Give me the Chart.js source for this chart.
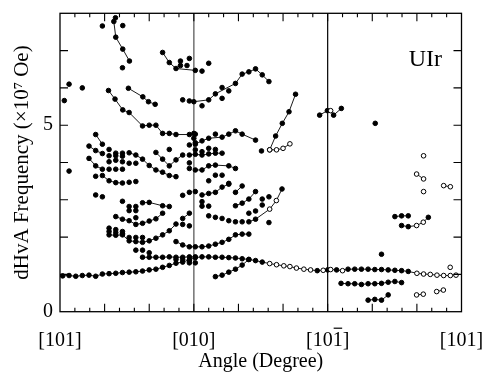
<!DOCTYPE html>
<html>
<head>
<meta charset="utf-8">
<script src="https://cdn.jsdelivr.net/npm/chart.js@4.4.0/dist/chart.umd.min.js"></script>
<style>
  html, body { margin: 0; padding: 0; background: #fff; overflow: hidden; }
  #wrap { width: 487px; height: 379px; }
  canvas { display: block; }
</style>
</head>
<body>
<div id="wrap"><canvas id="c" width="487" height="379"></canvas></div>
<script>
// Angle (deg, [101]=0 -> [010]=90 -> [10-1]=180 -> [101]=270) vs dHvA frequency (x10^7 Oe)
// third element 1 = open symbol
const axisLabels = { 0: '[101]', 90: '[010]', 180: '[101]', 270: '[101]' };
const yLabels = [0, 5];

const mainLine = [[1.8,0.96],[6.1,0.97],[10.6,0.95],[15,0.97],[19.5,0.98],[24,0.95],[28.5,1.01],[33,1.02],
  [37.5,1.03],[42,1.05],[46.5,1.06],[51,1.07],[55.5,1.09],[60,1.12],[64.5,1.14],[69,1.19],[73.5,1.24],
  [78,1.30],[82.5,1.33],[87,1.39],[91,1.45],[95.5,1.47],[100,1.47],[104.5,1.46],[109,1.46],[113.5,1.45],
  [118,1.44],[122.5,1.42],[127,1.40],[131.5,1.37],[136,1.33],[141,1.29,1],[145.6,1.26,1],[150.5,1.23,1],
  [154.6,1.21,1],[159,1.17,1],[164,1.14,1],[168.5,1.12,1],[173,1.10],[177,1.11,1],[180,1.12],[182,1.13,1],
  [186,1.12],[190,1.10,1],[193.7,1.14],[198.2,1.14],[202.7,1.14],[207.2,1.14],[211.7,1.13],[216.2,1.13],
  [220.7,1.12],[225.2,1.11],[229.7,1.10],[234.2,1.08],[240,1.03,1],[244.5,1.01,1],[249,1.00,1],
  [253.5,0.98,1],[258,0.97,1],[262.5,0.97,1],[266.3,0.98,1]];
const row146 = [[55.5,1.46],[60,1.46],[64.5,1.46],[69,1.46],[73.5,1.47],[78,1.46],[82.5,1.46],[87,1.47],[91,1.47]];
const riseLine = [[104.5,0.94],[109,0.98],[113.5,1.06],[118,1.14],[122.5,1.25],[127,1.40]];
const lowLine = [[189,0.76],[193.7,0.75],[198.2,0.75],[202.7,0.73],[207.2,0.75],[211.7,0.75],[216.2,0.76],
  [220.7,0.79],[225.2,0.81],[229.7,0.78]];
const bottomLine = [[207.2,0.31],[211.7,0.33],[216.2,0.31],[220.7,0.45]];
const pairA = [[239.8,0.45,1],[244.3,0.47,1]];
const pairB = [[253.3,0.54,1],[257.8,0.58,1]];
const pairC = [[258,3.38,1],[262.5,3.35,1]];
const pairD = [[239.8,3.69,1],[244.5,3.56,1]];
const line255 = [[225.2,2.55],[229.7,2.57],[234.2,2.57]];
const line230 = [[229.7,2.31],[234.2,2.28],[239.8,2.31,1],[244.3,2.40,1],[247.7,2.53]];
const line53 = [[174.6,5.27],[179.8,5.39],[182,5.39,1],[184,5.27],[189.2,5.45]];
const lineSteep = [[141,4.34,1],[145,4.71],[149.5,5.05],[154,5.36],[158.4,5.83]];
const lineOpenRow = [[141,4.34,1],[145.6,4.34,1],[150,4.38,1],[154.6,4.50,1]];
const lineRise24 = [[127,2.41],[131.5,2.48],[141,2.75,1],[145.5,2.98,1],[149.3,3.29]];
const lineHump = [[90,5.63],[100,5.68],[104.5,5.84],[118,6.12],[122.5,6.37],[127,6.43],[131.5,6.51],[136,6.35],[140.5,6.17]];
const lineTop69 = [[69,6.95],[73.5,6.68],[78,6.52],[91,6.47]];
const lineTopSteep = [[36.2,7.78],[37.5,7.36],[42.2,7.04],[46.7,6.72]];
const line60 = [[46,5.99],[55.7,5.76],[59.5,5.63],[64,5.56]];
const line50 = [[32.6,5.93],[37,5.70],[42.2,5.41],[46.5,5.34],[55.5,4.98],[60,5.0],[64.5,5.0],[69,4.78],
  [73.5,4.78],[78,4.75],[87,4.75],[91,4.76]];
const line47 = [[24,4.75],[28.5,4.49]];
const line44 = [[19.5,4.44],[24,4.32],[28.5,4.24]];
const line42 = [[46.5,4.26],[51,4.20],[55.5,4.09],[60,3.92],[64.5,3.80],[69,3.74],[73.5,3.65],[78,3.62]];
const lineV = [[64.5,4.27],[69,4.09],[73.5,3.91],[78,4.07],[82.5,4.20]];
const line421 = [[87,4.20],[91,4.22],[95.5,4.20],[100,4.23],[104.5,4.25],[109,4.25]];
const line465 = [[91,4.49],[95.5,4.58],[100,4.65],[109,4.68],[113.5,4.76],[118,4.85],[122.5,4.76],[131.5,4.60]];
const line39 = [[91,3.80],[95.5,3.80],[100,3.91],[104.5,3.93],[113.5,3.91],[118,3.84]];
const line32 = [[95.5,3.13],[100,3.17],[104.5,3.20],[109,3.34],[113.5,3.42]];
const line33 = [[118,3.20],[122.5,3.37]];
const line29 = [[118,2.84],[122.5,2.91],[127,3.02],[131.5,3.22]];
const line20 = [[78,1.88],[82.5,1.79],[87,1.74],[91,1.74],[95.5,1.74],[100,1.76],[104.5,1.81],[109,1.86],
  [113.5,1.94],[118,2.06],[122.5,2.08],[127,2.08]];
const line26 = [[82.5,2.50],[87,2.64]];
const line25 = [[37.5,2.55],[42,2.48],[46.5,2.44],[51,2.34],[55.5,2.37],[60,2.43],[64.5,2.49],[69,2.64]];
const line21 = [[33,2.06],[37.5,2.05],[42,2.06],[46.5,1.90],[51,1.88],[55.5,1.86],[60,1.90],[64.5,1.97],
  [69,2.06],[73.5,2.17],[78,2.35]];
const line29L = [[55.5,2.92],[60,2.93],[69,2.84],[73.5,2.82]];
const line36 = [[28.5,3.65],[33,3.51],[37.5,3.46],[42,3.45]];
const line39L = [[19.5,4.11],[24,3.91],[28.5,3.82]];

const dotsFilled = [
  [2.9,5.66],[6.1,6.10],[15,6.0],[6.1,3.77],
  [28.5,7.66],[37.3,7.88],[42.2,7.67],[42,6.54],
  [81,6.72],[87,6.79],[81,6.6],[85.4,6.6],[95.5,6.45],[100,6.66],
  [82.5,5.68],[87,5.65],[95.5,5.52],[109,6.01],[109,5.72],[113.5,5.92],
  [33,4.35],[37.5,4.25],[42,4.25],[33,4.18],[37.5,4.18],[42,4.17],[33,4.02],[37.5,4.06],[42,4.02],[46.5,3.98],[51,3.98],
  [73.5,4.35],[87,4.47],[91,4.53],[90,4.78],[90,4.65],[104.5,4.76],
  [91,4.34],[95.5,4.29],[100,4.38],[104.5,4.35],
  [87,3.99],[87,3.84],[33,3.82],[37.5,3.82],[42,3.82],
  [24,3.63],[46.5,3.47],[51,3.49],
  [104.5,3.66],[109,3.66],[100,3.51],[113.5,3.44],
  [82.5,3.12],[87,3.20],[91,3.22],[24,3.13],[28.5,3.08],
  [42,2.96],[46.5,2.82],[51,2.82],[46.5,2.71],[51,2.71],[51,2.52],
  [95.5,2.95],[95.5,2.83],[100,2.83],
  [136,3.02],[136,2.86],[140.5,3.08],[127,2.64],[131.5,2.70],
  [100,2.57],[104.5,2.53],[109,2.50],[113.5,2.44],[118,2.41],[122.5,2.41],
  [140.5,2.39],[135.5,4.31],
  [33,2.24],[37.5,2.20],[42,2.15],[33,2.15],[37.5,2.12],[42,2.10],[46.5,1.99],[51,1.99],[55.5,1.99],
  [82.5,2.34],[87,2.30],[51,1.65],[55.5,1.65],[60,1.58],
  [78,1.40],[82.5,1.40],[87,1.37],[87,1.31],[91,1.31],
  [212,5.05],[216.2,1.54]
];
const dotsOpen = [[244.5,3.22],[262.4,1.19],[244.5,4.18]];

const connected = [mainLine, row146, riseLine, lowLine, bottomLine, pairA, pairB, pairC, pairD,
  line255, line230, line53, lineSteep, lineOpenRow, lineRise24, lineHump, lineTop69, lineTopSteep,
  line60, line50, line47, line44, line42, lineV, line421, line465, line39, line32, line33, line29,
  line20, line26, line25, line21, line29L, line36, line39L];

const FONT = "'Liberation Serif', 'Times New Roman', serif";
const toPts = a => a.map(p => ({ x: p[0], y: p[1], open: p[2] === 1 }));

const pointStyle = {
  borderColor: '#000',
  borderWidth: 0.9,
  pointRadius: 2.3,
  pointBorderWidth: 1,
  pointBorderColor: '#000',
  pointBackgroundColor: c => (c.raw && c.raw.open) ? '#fff' : '#000',
  pointHoverRadius: 2.3
};

const datasets = [
  ...connected.map(b => ({ data: toPts(b), showLine: true, ...pointStyle })),
  { data: toPts(dotsFilled), showLine: false, ...pointStyle },
  { data: dotsOpen.map(p => ({ x: p[0], y: p[1], open: true })), showLine: false, ...pointStyle }
];

// guide lines under the data; frame, inward ticks, overline and compound label on top
const framePlugin = {
  id: 'framePlugin',
  beforeDatasetsDraw(chart) {
    const { ctx, chartArea: a, scales } = chart;
    const xs = scales.x;
    ctx.save();
    ctx.strokeStyle = '#7a7a7a';
    ctx.lineWidth = 1.6;
    let px = xs.getPixelForValue(90);
    ctx.beginPath(); ctx.moveTo(px, a.top); ctx.lineTo(px, a.bottom); ctx.stroke();
    ctx.strokeStyle = '#000';
    ctx.lineWidth = 1.2;
    px = xs.getPixelForValue(180);
    ctx.beginPath(); ctx.moveTo(px, a.top); ctx.lineTo(px, a.bottom); ctx.stroke();
    ctx.restore();
  },
  afterDraw(chart) {
    const { ctx, chartArea: a, scales } = chart;
    const xs = scales.x, ys = scales.y;
    ctx.save();
    ctx.strokeStyle = '#000';
    ctx.lineWidth = 1.3;
    ctx.strokeRect(a.left, a.top, a.right - a.left, a.bottom - a.top);
    ctx.lineWidth = 1.1;
    ctx.beginPath();
    for (let v = 10; v < 270; v += 10) {
      const px = xs.getPixelForValue(v);
      const len = v % 30 === 0 ? 8 : 4;
      ctx.moveTo(px, a.bottom); ctx.lineTo(px, a.bottom - len);
      ctx.moveTo(px, a.top); ctx.lineTo(px, a.top + len);
    }
    for (let v = 1; v < 8; v++) {
      const py = ys.getPixelForValue(v);
      ctx.moveTo(a.left, py); ctx.lineTo(a.left + 8, py);
      ctx.moveTo(a.right, py); ctx.lineTo(a.right - 8, py);
    }
    ctx.stroke();

    // overline on the last "1" of [10-1]
    ctx.font = '20px ' + FONT;
    const full = ctx.measureText('[101]').width;
    const pre = ctx.measureText('[10').width;
    const one = ctx.measureText('1').width;
    const lx = xs.getPixelForValue(180) - full / 2 + pre;
    ctx.lineWidth = 1.2;
    ctx.beginPath(); ctx.moveTo(lx + 1, xs.top + 16.5); ctx.lineTo(lx + one - 0.5, xs.top + 16.5); ctx.stroke();

    ctx.font = '24px ' + FONT;
    ctx.fillStyle = '#000';
    ctx.textAlign = 'right';
    ctx.textBaseline = 'alphabetic';
    ctx.fillText('UIr', 442, 66);
    ctx.restore();
  }
};

new Chart(document.getElementById('c'), {
  type: 'scatter',
  data: { datasets },
  options: {
    responsive: false,
    animation: false,
    events: [],
    layout: { padding: { left: 0, right: 25.5, top: 13.3, bottom: 0 } },
    plugins: { legend: { display: false }, tooltip: { enabled: false } },
    scales: {
      x: {
        type: 'linear', min: 0, max: 270,
        afterFit: s => { s.height = 379 - 311.7; s.paddingLeft = 0; s.paddingRight = 0; },
        grid: { display: false, drawTicks: false },
        border: { display: false },
        ticks: {
          stepSize: 10, autoSkip: false, maxRotation: 0, padding: 17,
          color: '#000', font: { family: FONT, size: 20 },
          callback: v => axisLabels[v] || ''
        },
        title: { display: true, text: 'Angle (Degree)', color: '#000',
          font: { family: FONT, size: 20 }, padding: { top: 0, bottom: 5 } }
      },
      y: {
        min: 0, max: 8,
        afterFit: s => { s.width = 60; s.paddingTop = 0; s.paddingBottom = 0; },
        grid: { display: false, drawTicks: false },
        border: { display: false },
        ticks: {
          stepSize: 1, padding: 7, color: '#000', font: { family: FONT, size: 20 },
          callback: v => yLabels.includes(v) ? String(v) : ''
        },
        title: { display: true, text: 'dHvA Frequency (\u00d710\u2077 Oe)', color: '#000',
          font: { family: FONT, size: 21 }, padding: { top: 10, bottom: 10 } }
      }
    }
  },
  plugins: [framePlugin]
});
</script>
</body>
</html>
